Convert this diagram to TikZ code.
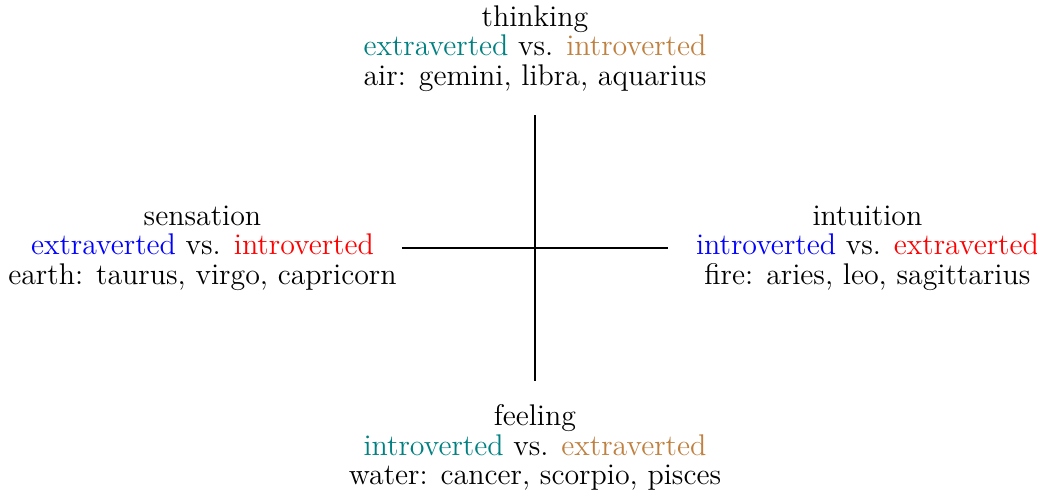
\documentclass[tikz,border=0pt]{standalone}
\usetikzlibrary{positioning}
\begin{document}
\begin{tikzpicture}
\tikzset{
  label/.style={align=center, inner sep=0pt, font=\fontsize{12.8}{12.7}\selectfont},
  axis/.style={thick, black}
}
\useasboundingbox (-8.045,-3.71) rectangle (7.55,3.73);
\coordinate (t) at (0,2);
\coordinate (b) at (0,-2);
\coordinate (l) at (-2,0);
\coordinate (r) at (2,0);
\draw[axis] (t) -- (b);
\draw[axis] (l) -- (r);
\node[label] (thinking) at (0,3) {thinking\\ \textcolor{teal}{extraverted} vs. \textcolor{brown}{introverted}\\ air: gemini, libra, aquarius};
\node[label] (feeling) at (0,-3) {feeling\\ \textcolor{teal}{introverted} vs. \textcolor{brown}{extraverted}\\ water: cancer, scorpio, pisces};
\node[label] (sensation) at (-5,0) {sensation\\ \textcolor{blue}{extraverted} vs. \textcolor{red}{introverted}\\ earth: taurus, virgo, capricorn};
\node[label] (intuition) at (5,0) {intuition\\ \textcolor{blue}{introverted} vs. \textcolor{red}{extraverted}\\ fire: aries, leo, sagittarius};
\end{tikzpicture}
\end{document}
